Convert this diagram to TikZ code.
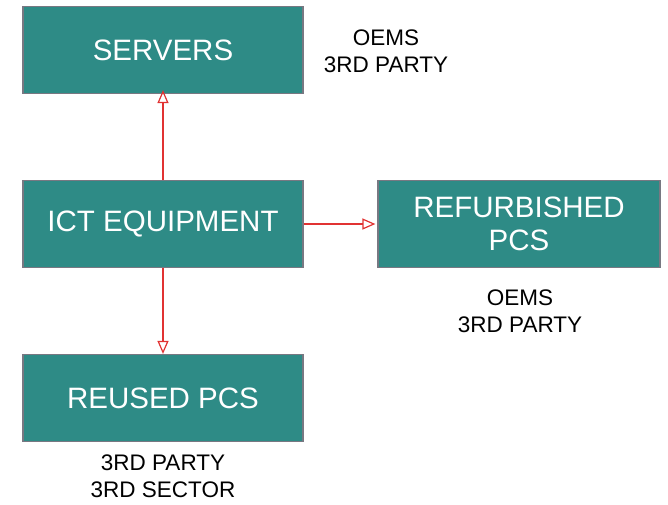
\documentclass[tikz,border=0pt]{standalone}
\usepackage{fontspec}
\setmainfont{Liberation Sans}
\usetikzlibrary{arrows.meta}
\definecolor{teal1}{RGB}{46,139,134}
\definecolor{edge1}{RGB}{120,120,130}
\definecolor{arr}{RGB}{225,50,50}
\tikzset{
  box/.style={draw=edge1, line width=1.2pt, fill=teal1, text=white, minimum width=280pt, minimum height=87pt, inner sep=0pt, align=center, font=\fontsize{29.5}{33}\selectfont},
  refbox/.style={box, minimum width=282pt},
  lab/.style={align=center, font=\fontsize{22.5}{27}\selectfont, inner sep=0pt},
  link/.style={draw=arr, line width=1.2pt, -{Triangle[open, length=13pt, width=11pt]}}
}
\begin{document}
\begin{tikzpicture}[x=1pt,y=-1pt]
\useasboundingbox (0,0) rectangle (668,504);
\node[box] (srv) at (163,50) {SERVERS};
\node[box] (ict) at (163,224) {ICT EQUIPMENT};
\node[refbox] (ref) at (519,224) {REFURBISHED\\PCS};
\node[box] (reu) at (163,398) {REUSED PCS};
\node[lab] (l1) at (386,51) {OEMS\\3RD PARTY};
\node[lab] (l2) at (520,311) {OEMS\\3RD PARTY};
\node[lab] (l3) at (163,476) {3RD PARTY\\3RD SECTOR};
\draw[link] (ict.north) -- ([yshift=4pt]srv.south);
\draw[link] (ict.east) -- ([xshift=-2pt]ref.west);
\draw[link] (ict.south) -- (reu.north);
\end{tikzpicture}
\end{document}
